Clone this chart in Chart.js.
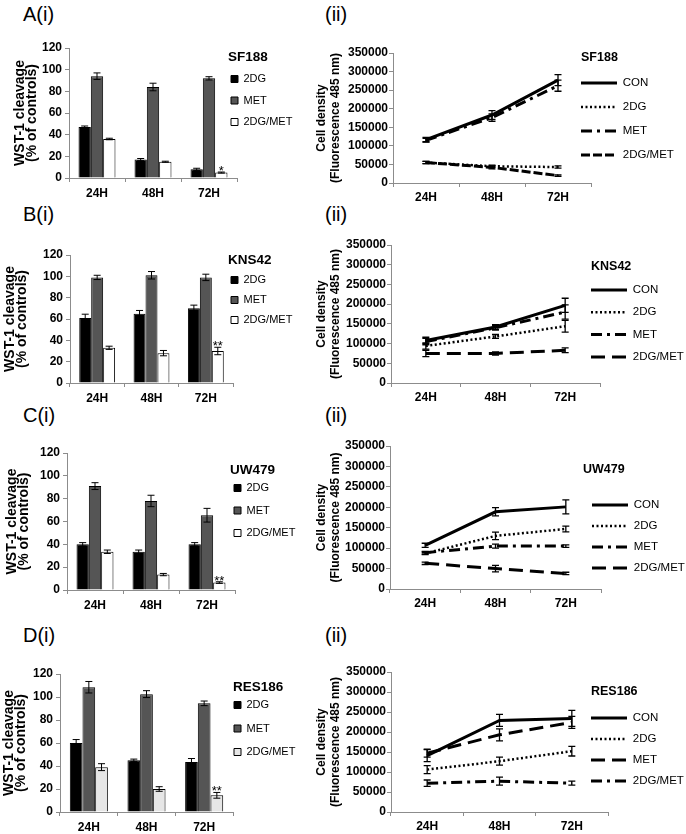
<!DOCTYPE html>
<html>
<head>
<meta charset="utf-8">
<script src="https://cdn.jsdelivr.net/npm/chart.js@4.4.1/dist/chart.umd.min.js"></script>
<style>
  html, body { margin: 0; padding: 0; background: #fff; }
  body { width: 686px; height: 834px; position: relative; overflow: hidden; font-family: "Liberation Sans", Arial, sans-serif; }
  canvas { position: absolute; }
  .lbl { position: absolute; font-size: 20px; line-height: 20px; color: #000; }
</style>
</head>
<body>
<div class="lbl" style="left:23px;top:4px">A(i)</div>
<div class="lbl" style="left:325px;top:4px">(ii)</div>
<div class="lbl" style="left:23px;top:204px">B(i)</div>
<div class="lbl" style="left:325px;top:204px">(ii)</div>
<div class="lbl" style="left:23px;top:405px">C(i)</div>
<div class="lbl" style="left:325px;top:405px">(ii)</div>
<div class="lbl" style="left:23px;top:625px">D(i)</div>
<div class="lbl" style="left:325px;top:625px">(ii)</div>

<canvas id="a1"></canvas>
<canvas id="a2"></canvas>
<canvas id="b1"></canvas>
<canvas id="b2"></canvas>
<canvas id="c1"></canvas>
<canvas id="c2"></canvas>
<canvas id="d1"></canvas>
<canvas id="d2"></canvas>

<script>
const timeLabels = ['24H', '48H', '72H'];
const barTreatments = ['2DG', 'MET', '2DG/MET'];
const lineTreatments = ['CON', '2DG', 'MET', '2DG/MET'];
const wstTicks = [0, 20, 40, 60, 80, 100, 120];
const densityTicks = [0, 50000, 100000, 150000, 200000, 250000, 300000, 350000];

// A - SF188
const sf188Wst2dg = [47, 17, 8];
const sf188Wst2dgErr = [1, 1, 1];
const sf188WstMet = [94, 84, 92];
const sf188WstMetErr = [3, 3.5, 1.5];
const sf188WstCombo = [36, 15, 5];
const sf188WstComboErr = [0.7, 0.5, 0.5];
const sf188Con = [117000, 183000, 277000];
const sf188ConErr = [6000, 12000, 15000];
const sf188Dens2dg = [55000, 45000, 43000];
const sf188Dens2dgErr = [3000, 3000, 3000];
const sf188DensMet = [115000, 176000, 262000];
const sf188DensMetErr = [5000, 10000, 15000];
const sf188DensCombo = [55000, 42000, 20000];
const sf188DensComboErr = [3000, 4000, 2000];

// B - KNS42
const kns42Wst2dg = [61, 65, 70];
const kns42Wst2dgErr = [3.5, 3, 3];
const kns42WstMet = [99, 101, 99];
const kns42WstMetErr = [2, 3.5, 3];
const kns42WstCombo = [33, 28, 30];
const kns42WstComboErr = [1.5, 2.5, 3.5];
const kns42Con = [108000, 142000, 197000];
const kns42ConErr = [8000, 6000, 18000];
const kns42Dens2dg = [94000, 118000, 144000];
const kns42Dens2dgErr = [8000, 5000, 15000];
const kns42DensMet = [105000, 140000, 180000];
const kns42DensMetErr = [8000, 6000, 18000];
const kns42DensCombo = [75000, 75000, 83000];
const kns42DensComboErr = [8000, 4000, 6000];

// C - UW479
const uw479Wst2dg = [40, 33.5, 40];
const uw479Wst2dgErr = [1.5, 1.5, 1.5];
const uw479WstMet = [91, 78, 65.5];
const uw479WstMetErr = [3, 5, 6];
const uw479WstCombo = [33.5, 13.5, 6.5];
const uw479WstComboErr = [1.5, 1, 0.7];
const uw479Con = [107000, 189000, 201000];
const uw479ConErr = [5000, 10000, 17000];
const uw479Dens2dg = [87000, 130000, 147000];
const uw479Dens2dgErr = [3000, 9000, 7000];
const uw479DensMet = [89000, 105000, 105000];
const uw479DensMetErr = [3000, 5000, 3000];
const uw479DensCombo = [63000, 50000, 38000];
const uw479DensComboErr = [3000, 8000, 3000];

// D - RES186
const res186Wst2dg = [60, 45, 43.5];
const res186Wst2dgErr = [3, 1, 3];
const res186WstMet = [108.5, 102.5, 94.5];
const res186WstMetErr = [5, 3, 2];
const res186WstCombo = [39, 20, 14.5];
const res186WstComboErr = [3, 2, 2.5];
const res186Con = [141000, 229000, 234000];
const res186ConErr = [15000, 15000, 20000];
const res186Dens2dg = [106000, 127000, 152000];
const res186Dens2dgErr = [10000, 10000, 12000];
const res186DensMet = [147000, 193000, 224000];
const res186DensMetErr = [10000, 15000, 15000];
const res186DensCombo = [72000, 77000, 72000];
const res186DensComboErr = [8000, 10000, 5000];

Chart.defaults.font.family = '"Liberation Sans", Arial, sans-serif';
Chart.defaults.color = '#000';

const AXIS = '#8c8c8c';
const SOLID = { borderWidth: 3, borderDash: [] };
const DOTTED = { borderWidth: 2.5, borderDash: [2, 2.5] };
const DASHDOT = { borderWidth: 3, borderDash: [11, 5, 3, 5] };
const DASH_SHORT = { borderWidth: 3, borderDash: [9, 3] };
const DASH_LONG = { borderWidth: 3, borderDash: [14, 7] };

// error bars + significance stars, placed with the y scale
const errorBars = {
  id: 'errorBars',
  afterDatasetsDraw(chart, args, opts) {
    const ctx = chart.ctx;
    const y = chart.scales.y;
    const cap = opts.cap || 7;
    ctx.save();
    ctx.strokeStyle = '#000';
    ctx.lineWidth = opts.width || 1;
    chart.data.datasets.forEach((ds, i) => {
      if (!ds.errors) return;
      chart.getDatasetMeta(i).data.forEach((el, j) => {
        const v = ds.data[j], e = ds.errors[j];
        const top = y.getPixelForValue(v + e);
        const bot = y.getPixelForValue(v - e);
        ctx.beginPath();
        ctx.moveTo(el.x, top); ctx.lineTo(el.x, bot);
        ctx.moveTo(el.x - cap / 2, top); ctx.lineTo(el.x + cap / 2, top);
        ctx.moveTo(el.x - cap / 2, bot); ctx.lineTo(el.x + cap / 2, bot);
        ctx.stroke();
      });
    });
    const st = opts.star;
    if (st) {
      const ds = chart.data.datasets[st.dataset];
      const el = chart.getDatasetMeta(st.dataset).data[st.index];
      const top = y.getPixelForValue(ds.data[st.index] + ds.errors[st.index]);
      ctx.fillStyle = '#000';
      ctx.font = '13px "Liberation Sans", Arial, sans-serif';
      ctx.textAlign = 'center';
      ctx.textBaseline = 'alphabetic';
      ctx.fillText(st.text, el.x, top + 3);
    }
    ctx.restore();
  }
};

// put the legend where the original has it (over the right end of the plot)
const legendPlace = {
  id: 'legendPlace',
  afterLayout(chart, args, opts) {
    const lg = chart.legend;
    if (!lg || opts.left == null) return;
    lg.left = opts.left;
    lg.right = opts.left + 200;
    lg.top = opts.top;
    lg.bottom = opts.top + 500;
  }
};

Chart.register(errorBars, legendPlace);

function frame(canvas, box, plot) {
  canvas.width = box.w;
  canvas.height = box.h;
  canvas.style.left = box.x + 'px';
  canvas.style.top = box.y + 'px';
  return {
    padding: { left: box.padL, top: plot.y0 - box.y, right: box.x + box.w - plot.x1, bottom: 0 },
    yWidth: plot.x0 - box.x - box.padL,
    xHeight: box.y + box.h - plot.y1
  };
}

function legendOptions(d, cell, box, isLine) {
  const size = isLine ? 11.5 : 11;
  const tSize = isLine ? 12.5 : 13.5;
  const p = Math.max(0, d.ix - d.tx);
  const top = d.ty - tSize / 2;
  const tpB = Math.max(0, d.fy - size / 2 - p - top - tSize);
  return {
    legend: {
      position: 'chartArea',
      align: 'start',
      title: {
        display: true, text: cell, position: 'start', color: '#000',
        font: { size: tSize, weight: 'bold', lineHeight: 1 },
        padding: { top: 0, bottom: tpB }
      },
      labels: {
        padding: p,
        color: '#000',
        font: { size: size, lineHeight: (d.step - p) / size },
        usePointStyle: isLine,
        pointStyle: 'line',
        pointStyleWidth: 36,
        boxWidth: 7,
        boxHeight: 7,
        generateLabels: chart => chart.data.datasets.map((ds, i) => ({
          text: [ds.label],
          fillStyle: ds.backgroundColor,
          strokeStyle: '#000',
          lineWidth: ds.borderWidth,
          lineDash: ds.borderDash || [],
          lineCap: 'butt',
          pointStyle: isLine ? 'line' : undefined,
          fontColor: '#000',
          textAlign: 'left',
          hidden: false,
          datasetIndex: i
        }))
      }
    },
    legendPlace: { left: d.ix - p - box.x, top: top - box.y }
  };
}

function axes(f, ticks, title, titleFont, tickPad, xPad) {
  return {
    x: {
      offset: true,
      grid: { offset: true, drawOnChartArea: false, tickLength: 4, color: AXIS },
      border: { color: AXIS },
      ticks: { padding: xPad, font: { size: 12, weight: 'bold' } },
      afterFit: s => { s.height = f.xHeight; }
    },
    y: {
      min: ticks[0],
      max: ticks[ticks.length - 1],
      ticks: {
        stepSize: ticks[1] - ticks[0],
        padding: tickPad,
        font: { size: 12, weight: 'bold' },
        callback: v => String(v)
      },
      grid: { drawOnChartArea: false, tickLength: 4, color: AXIS },
      border: { color: AXIS },
      title: { display: true, text: title, color: '#000', font: titleFont, padding: { top: 2, bottom: 0 } },
      afterFit: s => { s.width = f.yWidth; }
    }
  };
}

function wstChart(id, box, plot, leg, cell, sets, comboFill, star) {
  const canvas = document.getElementById(id);
  const f = frame(canvas, box, plot);
  const fills = ['#000000', '#555555', comboFill];
  const lo = legendOptions(leg, cell, box, false);
  new Chart(canvas, {
    type: 'bar',
    data: {
      labels: timeLabels,
      datasets: sets.map((s, i) => ({
        label: barTreatments[i],
        data: s[0],
        errors: s[1],
        backgroundColor: fills[i],
        borderColor: '#000',
        borderWidth: 1,
        categoryPercentage: 0.66,
        barPercentage: 1
      }))
    },
    options: {
      responsive: false,
      animation: false,
      devicePixelRatio: 1,
      layout: { padding: f.padding },
      plugins: {
        legend: lo.legend,
        legendPlace: lo.legendPlace,
        tooltip: { enabled: false },
        errorBars: { cap: 7, width: 1, star: star }
      },
      scales: axes(f, wstTicks, ['WST-1 cleavage', '(% of controls)'],
        { size: 14, weight: 'bold', lineHeight: 0.85 }, 3, 4)
    }
  });
}

function densityChart(id, box, plot, leg, cell, sets, styles) {
  const canvas = document.getElementById(id);
  const f = frame(canvas, box, plot);
  const lo = legendOptions(leg, cell, box, true);
  new Chart(canvas, {
    type: 'line',
    data: {
      labels: timeLabels,
      datasets: sets.map((s, i) => ({
        label: lineTreatments[i],
        data: s[0],
        errors: s[1],
        borderColor: '#000',
        backgroundColor: '#000',
        borderWidth: styles[i].borderWidth,
        borderDash: styles[i].borderDash,
        borderCapStyle: 'butt',
        fill: false,
        tension: 0,
        pointRadius: 0
      }))
    },
    options: {
      responsive: false,
      animation: false,
      devicePixelRatio: 1,
      layout: { padding: f.padding },
      plugins: {
        legend: lo.legend,
        legendPlace: lo.legendPlace,
        tooltip: { enabled: false },
        errorBars: { cap: 7, width: 1.3 }
      },
      scales: axes(f, densityTicks, ['Cell density', '(Fluorescence 485 nm)'],
        { size: 12, weight: 'bold', lineHeight: 1.15 }, 1, 3)
    }
  });
}

const colStyles = [SOLID, DOTTED, DASHDOT, DASH_LONG];

wstChart('a1', { x: 0, y: 28, w: 320, h: 182, padL: 12 }, { x0: 69, y0: 48, x1: 237, y1: 178 },
  { tx: 228, ix: 231, ty: 57, fy: 79, step: 21.5 }, 'SF188',
  [[sf188Wst2dg, sf188Wst2dgErr], [sf188WstMet, sf188WstMetErr], [sf188WstCombo, sf188WstComboErr]],
  '#ffffff', { dataset: 2, index: 2, text: '*' });

densityChart('a2', { x: 306, y: 30, w: 380, h: 182, padL: 7 }, { x0: 393, y0: 53, x1: 591, y1: 183 },
  { tx: 582, ix: 581, ty: 58, fy: 83, step: 24 }, 'SF188',
  [[sf188Con, sf188ConErr], [sf188Dens2dg, sf188Dens2dgErr], [sf188DensMet, sf188DensMetErr], [sf188DensCombo, sf188DensComboErr]],
  [SOLID, DOTTED, DASHDOT, DASH_SHORT]);

wstChart('b1', { x: 0, y: 228, w: 320, h: 184, padL: 2 }, { x0: 70, y0: 255, x1: 233, y1: 383 },
  { tx: 228, ix: 231, ty: 260, fy: 280, step: 20 }, 'KNS42',
  [[kns42Wst2dg, kns42Wst2dgErr], [kns42WstMet, kns42WstMetErr], [kns42WstCombo, kns42WstComboErr]],
  '#ffffff', { dataset: 2, index: 2, text: '**' });

densityChart('b2', { x: 306, y: 228, w: 380, h: 184, padL: 7 }, { x0: 391, y0: 245, x1: 600, y1: 383 },
  { tx: 591, ix: 591, ty: 267, fy: 290, step: 22.3 }, 'KNS42',
  [[kns42Con, kns42ConErr], [kns42Dens2dg, kns42Dens2dgErr], [kns42DensMet, kns42DensMetErr], [kns42DensCombo, kns42DensComboErr]],
  colStyles);

wstChart('c1', { x: 0, y: 430, w: 320, h: 190, padL: 4 }, { x0: 67, y0: 453, x1: 235, y1: 590 },
  { tx: 230, ix: 234, ty: 470, fy: 488, step: 22.5 }, 'UW479',
  [[uw479Wst2dg, uw479Wst2dgErr], [uw479WstMet, uw479WstMetErr], [uw479WstCombo, uw479WstComboErr]],
  '#ffffff', { dataset: 2, index: 2, text: '**' });

densityChart('c2', { x: 306, y: 430, w: 380, h: 190, padL: 7 }, { x0: 390, y0: 446, x1: 601, y1: 589 },
  { tx: 583, ix: 592, ty: 470, fy: 505, step: 21 }, 'UW479',
  [[uw479Con, uw479ConErr], [uw479Dens2dg, uw479Dens2dgErr], [uw479DensMet, uw479DensMetErr], [uw479DensCombo, uw479DensComboErr]],
  colStyles);

wstChart('d1', { x: 0, y: 652, w: 320, h: 182, padL: 1 }, { x0: 60, y0: 674, x1: 233, y1: 812 },
  { tx: 233, ix: 234, ty: 687, fy: 705, step: 23.5 }, 'RES186',
  [[res186Wst2dg, res186Wst2dgErr], [res186WstMet, res186WstMetErr], [res186WstCombo, res186WstComboErr]],
  '#e6e6e6', { dataset: 2, index: 2, text: '**' });

densityChart('d2', { x: 306, y: 652, w: 380, h: 182, padL: 7 }, { x0: 391, y0: 672, x1: 608, y1: 812 },
  { tx: 593, ix: 591, ty: 692, fy: 718, step: 21 }, 'RES186',
  [[res186Con, res186ConErr], [res186Dens2dg, res186Dens2dgErr], [res186DensMet, res186DensMetErr], [res186DensCombo, res186DensComboErr]],
  [SOLID, DOTTED, DASH_LONG, DASHDOT]);
</script>
</body>
</html>
